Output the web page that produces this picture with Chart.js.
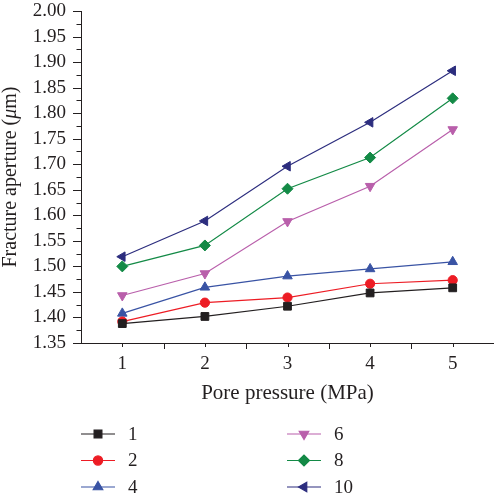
<!DOCTYPE html>
<html>
<head>
<meta charset="utf-8">
<script src="https://cdn.jsdelivr.net/npm/chart.js@4.4.1/dist/chart.umd.min.js"></script>
<style>
	html, body { margin: 0; padding: 0; background: #fff; }
	canvas { display: block; }
</style>
</head>
<body>
<canvas id="chart" width="494" height="500"></canvas>
<script>
// pore pressure (MPa)
const pressures = [1, 2, 3, 4, 5]

const seriesNames = ['1', '2', '4', '6', '8', '10']
const series1 = [1.388, 1.402, 1.422, 1.448, 1.458]
const series2 = [1.392, 1.429, 1.439, 1.466, 1.473]
const series4 = [1.408, 1.459, 1.481, 1.495, 1.509]
const series6 = [1.443, 1.486, 1.588, 1.657, 1.768]
const series8 = [1.500, 1.541, 1.652, 1.713, 1.829]
const series10 = [1.519, 1.589, 1.696, 1.782, 1.883]

const yTicks = ['1.35', '1.40', '1.45', '1.50', '1.55', '1.60', '1.65', '1.70', '1.75', '1.80', '1.85', '1.90', '1.95', '2.00']
const xTicks = ['1', '2', '3', '4', '5']

const FONT = '"Liberation Serif", "DejaVu Serif", serif'

const styles = [
	{ color: '#231f20', pointStyle: 'rect', radius: 5.5, rotation: 0 },
	{ color: '#ed1c24', pointStyle: 'circle', radius: 4.6, rotation: 0 },
	{ color: '#3953a4', pointStyle: 'triangle', radius: 5.5, rotation: 0 },
	{ color: '#b95fab', pointStyle: 'triangle', radius: 5.5, rotation: 180 },
	{ color: '#138a46', pointStyle: 'rectRot', radius: 5.5, rotation: 0 },
	{ color: '#2c2d7e', pointStyle: 'triangle', radius: 5.5, rotation: 270 },
]

const allSeries = [series1, series2, series4, series6, series8, series10]

const datasets = allSeries.map((values, key) => ({
	label: seriesNames[key],
	data: values.map((v, i) => ({ x: pressures[i], y: v })),
	borderColor: styles[key].color,
	backgroundColor: styles[key].color,
	borderWidth: 1.2,
	pointStyle: styles[key].pointStyle,
	pointRadius: styles[key].radius,
	pointRotation: styles[key].rotation,
	pointBorderWidth: 1,
	tension: 0,
	clip: false,
}))

function drawMarker(ctx, style, x, y) {
	const opts = {
		pointStyle: style.pointStyle,
		radius: style.radius,
		rotation: style.rotation,
		borderWidth: 1,
	}
	ctx.fillStyle = style.color
	ctx.strokeStyle = style.color
	Chart.helpers.drawPoint(ctx, opts, x, y)
}

// minor ticks, y title and the two-column legend
const decorations = {
	id: 'decorations',
	afterDraw(chart) {
		const ctx = chart.ctx
		const xs = chart.scales.x
		const ys = chart.scales.y
		const area = chart.chartArea
		ctx.save()
		ctx.strokeStyle = '#231f20'
		ctx.lineWidth = 1
		ctx.beginPath()
		for (let i = 0; i <= 26; i++) {
			const v = 1.35 + i * 0.025
			const py = Math.round(ys.getPixelForValue(v)) + 0.5
			const len = i % 2 === 0 ? 8 : 4.5
			ctx.moveTo(area.left - len, py)
			ctx.lineTo(area.left, py)
		}
		for (let i = 1; i <= 10; i++) {
			const v = 0.5 + i * 0.5
			const px = Math.round(xs.getPixelForValue(v)) + 0.5
			const len = i % 2 === 0 ? 6 : 4
			ctx.moveTo(px, area.bottom)
			ctx.lineTo(px, area.bottom + len)
		}
		ctx.stroke()

		// y axis title with italic mu
		ctx.translate(11, (area.top + area.bottom) / 2)
		ctx.rotate(-Math.PI / 2)
		ctx.fillStyle = '#231f20'
		ctx.textBaseline = 'middle'
		const parts = [
			{ text: 'Fracture aperture (', italic: false },
			{ text: 'μ', italic: true },
			{ text: 'm)', italic: false },
		]
		let total = 0
		parts.forEach((p) => {
			ctx.font = (p.italic ? 'italic ' : '') + '20px ' + FONT
			p.w = ctx.measureText(p.text).width
			total += p.w
		})
		let cx = -total / 2
		parts.forEach((p) => {
			ctx.font = (p.italic ? 'italic ' : '') + '20px ' + FONT
			ctx.textAlign = 'left'
			ctx.fillText(p.text, cx, 0)
			cx += p.w
		})
		ctx.restore()

		// legend
		ctx.save()
		ctx.font = '19px ' + FONT
		ctx.textBaseline = 'middle'
		ctx.textAlign = 'left'
		const rows = [434, 460.5, 487]
		const cols = [81, 287]
		datasets.forEach((ds, key) => {
			const col = cols[Math.floor(key / 3)]
			const row = rows[key % 3]
			ctx.strokeStyle = styles[key].color
			ctx.lineWidth = 1.2
			ctx.beginPath()
			ctx.moveTo(col, row)
			ctx.lineTo(col + 34, row)
			ctx.stroke()
			drawMarker(ctx, styles[key], col + 17, row)
			ctx.fillStyle = '#231f20'
			ctx.fillText(ds.label, col + 47, row + 1)
		})
		ctx.restore()
	},
}

const ctx = document.getElementById('chart').getContext('2d')
new Chart(ctx, {
	type: 'line',
	data: { datasets },
	options: {
		responsive: false,
		animation: false,
		layout: { autoPadding: false, padding: { top: 11, right: 0, left: 0, bottom: 94 } },
		plugins: {
			legend: { display: false },
			tooltip: { enabled: false },
		},
		scales: {
			x: {
				type: 'linear',
				min: 0.5,
				max: 5.5,
				afterFit(scale) {
					scale.height = 63
					scale.paddingLeft = 0
					scale.paddingRight = 0
				},
				ticks: {
					stepSize: 0.5,
					autoSkip: false,
					maxRotation: 0,
					padding: 10,
					color: '#231f20',
					font: { family: FONT, size: 19 },
					callback: (v) => (Number.isInteger(v) ? xTicks[v - 1] : ''),
				},
				grid: { display: true, drawOnChartArea: false, drawTicks: false },
				border: { display: true, color: '#231f20', width: 1 },
				title: {
					display: true,
					text: 'Pore pressure (MPa)',
					color: '#231f20',
					font: { family: FONT, size: 21 },
					padding: { top: 4, bottom: 0 },
				},
			},
			y: {
				type: 'linear',
				min: 1.35,
				max: 2.0,
				afterFit(scale) {
					scale.width = 81
					scale.paddingTop = 0
					scale.paddingBottom = 0
				},
				ticks: {
					stepSize: 0.05,
					autoSkip: false,
					padding: 15,
					color: '#231f20',
					font: { family: FONT, size: 19 },
					callback: (v) => {
						const idx = Math.round((v - 1.35) / 0.05)
						return yTicks[idx]
					},
				},
				grid: { display: true, drawOnChartArea: false, drawTicks: false },
				border: { display: true, color: '#231f20', width: 1 },
			},
		},
	},
	plugins: [decorations],
})
</script>
</body>
</html>
